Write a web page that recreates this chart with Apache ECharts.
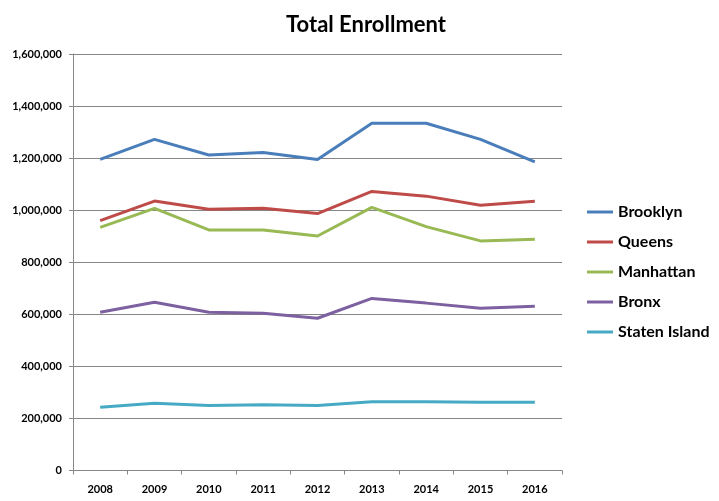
<!DOCTYPE html>
<html><head><meta charset="utf-8">
<script src="https://cdn.jsdelivr.net/npm/echarts@6/dist/echarts.min.js"></script>
<style>html,body{margin:0;padding:0;background:#fff}#c{width:719px;height:501px}</style>
</head><body><div id="c"></div>
<script>
const years = ['2008','2009','2010','2011','2012','2013','2014','2015','2016'];
const brooklyn = [1195000,1272000,1212000,1222000,1195000,1334000,1334000,1272000,1186000];
const queens = [960000,1035000,1004000,1007000,987000,1072000,1054000,1019000,1034000];
const manhattan = [934000,1007000,924000,924000,901000,1011000,937000,882000,888000];
const bronx = [608000,646000,608000,604000,585000,661000,643000,623000,631000];
const statenIsland = [243000,258000,250000,253000,250000,264000,264000,262000,262000];
const seriesNames = ['Brooklyn','Queens','Manhattan','Bronx','Staten Island'];
const seriesData = [brooklyn, queens, manhattan, bronx, statenIsland];
const colors = ['#4a7ebb','#be4b48','#98b954','#7d60a0','#46aac5'];
const FONT = 'Lato, "Open Sans", sans-serif';

const chart = echarts.init(document.getElementById('c'), null, {renderer:'canvas'});
chart.setOption({
  animation:false,
  color: colors,
  title:{text:'Total Enrollment', left:361, top:9, textAlign:'center',
    textStyle:{fontFamily:FONT, fontWeight:'bold', fontSize:22, color:'#000'}},
  grid:{left:73, right:157, top:54, bottom:30.5, containLabel:false},
  legend:{orient:'vertical', left:582, top:199, itemGap:14, itemWidth:26, itemHeight:3, icon:'rect',
    data:seriesNames,
    textStyle:{fontFamily:FONT, fontWeight:'bold', fontSize:16, color:'#000'}},
  xAxis:{type:'category', data:years, boundaryGap:true,
    axisLine:{lineStyle:{color:'#868686', width:1}},
    axisTick:{show:true, length:4, lineStyle:{color:'#868686'}},
    axisLabel:{fontFamily:FONT, fontWeight:'bold', fontSize:11, color:'#000', margin:13}},
  yAxis:{type:'value', min:0, max:1600000, interval:200000,
    axisLine:{show:true, lineStyle:{color:'#868686', width:1}},
    axisTick:{show:true, length:4, lineStyle:{color:'#868686'}},
    splitLine:{lineStyle:{color:'#868686', width:1}},
    axisLabel:{fontFamily:FONT, fontWeight:'bold', fontSize:11, color:'#000', margin:11,
      formatter:v=>v.toLocaleString('en-US')}},
  series: seriesNames.map((n,i)=>({name:n, type:'line', data:seriesData[i], symbol:'none',
    lineStyle:{width:3, color:colors[i]}, itemStyle:{color:colors[i]}}))
});
</script></body></html>
